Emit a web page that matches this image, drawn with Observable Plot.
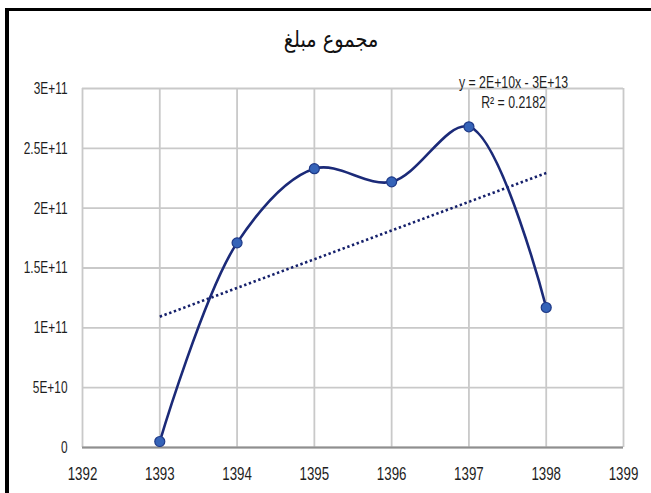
<!DOCTYPE html>
<html>
<head>
<meta charset="utf-8">
<script src="https://cdn.jsdelivr.net/npm/d3@7"></script>
<script src="https://cdn.jsdelivr.net/npm/@observablehq/plot@0.6"></script>
<style>
  html, body { margin: 0; padding: 0; background: #fff; }
  #wrap { position: relative; width: 651px; height: 493px; overflow: hidden; background: #fff; }
  #frame { position: absolute; left: 5px; top: 8px; width: 700px; height: 600px;
           border-top: 3px solid #000; border-left: 4px solid #000; box-sizing: border-box; }
  #title { position: absolute; left: 0; width: 662px; top: 26px; text-align: center;
           font-family: "DejaVu Sans", sans-serif; font-size: 23px; color: #111;
           transform: scaleX(0.84); transform-origin: 331px 0; }
  #chart { position: absolute; left: 0; top: 0; }
</style>
</head>
<body>
<div id="wrap">
  <div id="frame"></div>
  <div id="chart"></div>
  <div id="title" dir="rtl">مجموع مبلغ</div>
</div>
<script>
const years = [1393, 1394, 1395, 1396, 1397, 1398];
const amounts = [5e9, 1.71e11, 2.33e11, 2.22e11, 2.68e11, 1.17e11];
const xTicks = [1392, 1393, 1394, 1395, 1396, 1397, 1398, 1399];
const yTicks = [0, 5e10, 1e11, 1.5e11, 2e11, 2.5e11, 3e11];
const yTickLabels = ["0", "5E+10", "1E+11", "1.5E+11", "2E+11", "2.5E+11", "3E+11"];
const trendEquation = "y = 2E+10x - 3E+13";
const trendR2 = "R² = 0.2182";

const data = years.map((y, i) => ({year: y, value: amounts[i]}));
const navy = "#1b2a78";
const fontFam = "'Liberation Sans', Arial, sans-serif";

const chart = Plot.plot({
  width: 651,
  height: 493,
  marginLeft: 82,
  marginRight: 28,
  marginTop: 88,
  marginBottom: 46,
  style: {fontFamily: fontFam, fontSize: "16px", color: "#1e1e1e", background: "transparent"},
  x: {domain: [1392, 1399], label: null},
  y: {domain: [0, 3e11], label: null},
  marks: [
    Plot.gridX(xTicks, {stroke: "#c9c9c9", strokeOpacity: 1, strokeWidth: 1.8}),
    Plot.gridY(yTicks, {stroke: "#c9c9c9", strokeOpacity: 1, strokeWidth: 1.8}),
    Plot.ruleY([0], {stroke: "#8f8f8f", strokeWidth: 1.8}),
    Plot.axisX({ticks: xTicks, tickFormat: "d", tickSize: 0, tickPadding: 20, fontSize: 18}),
    Plot.axisY({ticks: yTicks, tickFormat: (d, i) => yTickLabels[i], tickSize: 0, tickPadding: 15, fontSize: 17}),
    Plot.linearRegressionY(data, {x: "year", y: "value", ci: 0, stroke: "#15206b", strokeWidth: 2.6, strokeDasharray: "2.4,2.6", strokeLinecap: "butt"}),
    Plot.line(data, {x: "year", y: "value", curve: "catmull-rom", stroke: navy, strokeWidth: 2.6}),
    Plot.dot(data, {x: "year", y: "value", r: 5, fill: "#3563b8", stroke: "#1f3a88", strokeWidth: 1.2}),
    Plot.text([trendEquation], {frameAnchor: "top-right", dx: -110, dy: -12, text: d => d, fontSize: 16, fill: "#1e1e1e", textAnchor: "middle"}),
    Plot.text([trendR2], {frameAnchor: "top-right", dx: -110, dy: 8, text: d => d, fontSize: 16, fill: "#1e1e1e", textAnchor: "middle"})
  ]
});

// condense text horizontally about each label's own anchor, like the narrow reference font
function condense(label, s) {
  chart.querySelectorAll(`g[aria-label="${label}"] text`).forEach(t => {
    const prev = t.getAttribute("transform") || "";
    t.setAttribute("transform", `${prev} scale(${s},1)`);
  });
}
condense("x-axis tick label", 0.74);
condense("y-axis tick label", 0.70);
condense("text", 0.77);
document.getElementById("chart").appendChild(chart);
</script>
</body>
</html>
